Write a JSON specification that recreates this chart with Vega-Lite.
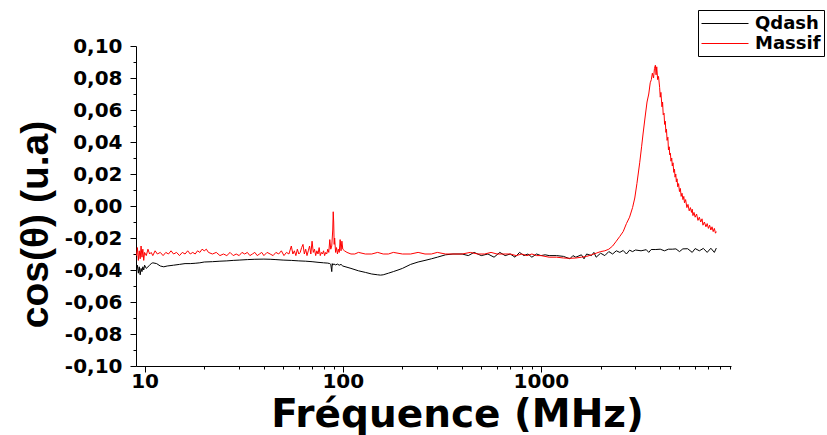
{
  "$schema": "https://vega.github.io/schema/vega-lite/v6.json",
  "autosize": {"type": "none"},
  "padding": {"left": 136, "top": 46, "right": 100, "bottom": 70},
  "width": 595,
  "height": 320,
  "background": "white",
  "config": {"view": {"stroke": null}},
  "datasets": {
    "qdash": [
      {"f":9.1,"v":-0.040},{"f":9.2,"v":-0.037},{"f":9.3,"v":-0.042},{"f":9.4,"v":-0.038},{"f":9.5,"v":-0.043},{"f":9.6,"v":-0.039},{"f":9.7,"v":-0.041},{"f":9.8,"v":-0.038},{"f":9.9,"v":-0.040},{"f":10,"v":-0.037},
      {"f":10.2,"v":-0.039},{"f":10.4,"v":-0.038},{"f":10.6,"v":-0.037},{"f":10.8,"v":-0.036},{"f":11,"v":-0.0355},{"f":11.5,"v":-0.036},{"f":12,"v":-0.0375},{"f":12.5,"v":-0.038},{"f":13,"v":-0.0375},{"f":14,"v":-0.037},
      {"f":15,"v":-0.0365},{"f":16,"v":-0.036},{"f":17,"v":-0.036},{"f":18,"v":-0.0358},{"f":19,"v":-0.0355},{"f":20,"v":-0.035},{"f":22,"v":-0.0348},{"f":24,"v":-0.0345},{"f":26,"v":-0.0343},{"f":28,"v":-0.034},
      {"f":30,"v":-0.0338},{"f":33,"v":-0.0335},{"f":36,"v":-0.0333},{"f":40,"v":-0.0332},{"f":43,"v":-0.0333},{"f":46,"v":-0.0335},{"f":50,"v":-0.0338},{"f":55,"v":-0.034},{"f":60,"v":-0.0343},{"f":65,"v":-0.0345},
      {"f":70,"v":-0.0348},{"f":75,"v":-0.0352},{"f":80,"v":-0.0355},{"f":84,"v":-0.0357},{"f":86,"v":-0.036},{"f":87,"v":-0.0365},{"f":88,"v":-0.041},{"f":88.5,"v":-0.036},{"f":89,"v":-0.037},{"f":90,"v":-0.0362},
      {"f":92,"v":-0.0368},{"f":94,"v":-0.0363},{"f":96,"v":-0.037},{"f":98,"v":-0.0365},{"f":100,"v":-0.0375},{"f":110,"v":-0.039},{"f":120,"v":-0.0405},{"f":130,"v":-0.0415},{"f":140,"v":-0.0425},{"f":150,"v":-0.043},
      {"f":155,"v":-0.0432},{"f":160,"v":-0.043},{"f":170,"v":-0.042},{"f":180,"v":-0.041},{"f":190,"v":-0.040},{"f":200,"v":-0.039},{"f":220,"v":-0.0365},{"f":240,"v":-0.035},{"f":260,"v":-0.034},{"f":280,"v":-0.033},
      {"f":300,"v":-0.032},{"f":330,"v":-0.0305},{"f":360,"v":-0.030},{"f":400,"v":-0.030},{"f":430,"v":-0.031},{"f":460,"v":-0.029},{"f":500,"v":-0.031},{"f":540,"v":-0.030},{"f":580,"v":-0.032},{"f":620,"v":-0.029},
      {"f":660,"v":-0.031},{"f":700,"v":-0.030},{"f":740,"v":-0.032},{"f":780,"v":-0.029},{"f":820,"v":-0.031},{"f":860,"v":-0.030},{"f":900,"v":-0.032},{"f":950,"v":-0.030},{"f":1000,"v":-0.031},{"f":1050,"v":-0.0305},
      {"f":1100,"v":-0.031},{"f":1200,"v":-0.031},{"f":1300,"v":-0.0315},{"f":1400,"v":-0.033},{"f":1450,"v":-0.031},{"f":1500,"v":-0.032},{"f":1600,"v":-0.0305},{"f":1650,"v":-0.033},{"f":1700,"v":-0.030},{"f":1800,"v":-0.031},
      {"f":1850,"v":-0.029},{"f":1900,"v":-0.032},{"f":2000,"v":-0.0295},{"f":2100,"v":-0.031},{"f":2200,"v":-0.0285},{"f":2300,"v":-0.030},{"f":2400,"v":-0.028},{"f":2500,"v":-0.029},{"f":2600,"v":-0.0278},{"f":2700,"v":-0.030},
      {"f":2800,"v":-0.0276},{"f":2900,"v":-0.0285},{"f":3000,"v":-0.0275},{"f":3200,"v":-0.028},{"f":3400,"v":-0.0273},{"f":3500,"v":-0.029},{"f":3600,"v":-0.0272},{"f":3800,"v":-0.0272},{"f":4000,"v":-0.027},{"f":4200,"v":-0.028},
      {"f":4400,"v":-0.027},{"f":4600,"v":-0.027},{"f":4800,"v":-0.0268},{"f":5000,"v":-0.0285},{"f":5200,"v":-0.0268},{"f":5500,"v":-0.0267},{"f":5800,"v":-0.029},{"f":6000,"v":-0.0266},{"f":6300,"v":-0.028},{"f":6600,"v":-0.0265},
      {"f":6900,"v":-0.029},{"f":7200,"v":-0.0264},{"f":7500,"v":-0.029},{"f":7674,"v":-0.0263}
    ],
    "massif": [
      {"f":9.1,"v":-0.031},{"f":9.2,"v":-0.026},{"f":9.3,"v":-0.034},{"f":9.4,"v":-0.028},{"f":9.5,"v":-0.033},{"f":9.6,"v":-0.025},{"f":9.7,"v":-0.032},{"f":9.8,"v":-0.027},{"f":9.9,"v":-0.034},{"f":10,"v":-0.029},
      {"f":10.2,"v":-0.031},{"f":10.4,"v":-0.027},{"f":10.6,"v":-0.030},{"f":10.8,"v":-0.029},{"f":11,"v":-0.031},{"f":11.3,"v":-0.028},{"f":11.6,"v":-0.030},{"f":12,"v":-0.029},{"f":12.4,"v":-0.031},{"f":12.8,"v":-0.029},
      {"f":13.2,"v":-0.030},{"f":13.6,"v":-0.028},{"f":14,"v":-0.030},{"f":14.5,"v":-0.029},{"f":15,"v":-0.031},{"f":15.5,"v":-0.029},{"f":16,"v":-0.030},{"f":16.5,"v":-0.028},{"f":17,"v":-0.030},{"f":17.5,"v":-0.029},
      {"f":18,"v":-0.030},{"f":18.5,"v":-0.028},{"f":19,"v":-0.029},{"f":19.5,"v":-0.027},{"f":20,"v":-0.028},{"f":20.5,"v":-0.027},{"f":21,"v":-0.029},{"f":22,"v":-0.030},{"f":23,"v":-0.029},{"f":24,"v":-0.031},
      {"f":25,"v":-0.030},{"f":26,"v":-0.031},{"f":27,"v":-0.029},{"f":28,"v":-0.031},{"f":29,"v":-0.030},{"f":30,"v":-0.031},{"f":31,"v":-0.029},{"f":32,"v":-0.030},{"f":33,"v":-0.029},{"f":34,"v":-0.031},
      {"f":35,"v":-0.030},{"f":36,"v":-0.029},{"f":37,"v":-0.031},{"f":38,"v":-0.030},{"f":39,"v":-0.029},{"f":40,"v":-0.031},{"f":41.5,"v":-0.029},{"f":43,"v":-0.030},{"f":44.5,"v":-0.031},{"f":46,"v":-0.029},
      {"f":47.5,"v":-0.030},{"f":49,"v":-0.028},{"f":50.5,"v":-0.031},{"f":52,"v":-0.029},{"f":53.5,"v":-0.030},{"f":55,"v":-0.025},{"f":56,"v":-0.030},{"f":57,"v":-0.028},{"f":58,"v":-0.031},{"f":59,"v":-0.027},
      {"f":60,"v":-0.030},{"f":61,"v":-0.029},{"f":62,"v":-0.026},{"f":63,"v":-0.024},{"f":64,"v":-0.030},{"f":65,"v":-0.027},{"f":66,"v":-0.031},{"f":67,"v":-0.028},{"f":68,"v":-0.025},{"f":69,"v":-0.030},
      {"f":70,"v":-0.022},{"f":71,"v":-0.029},{"f":72,"v":-0.027},{"f":73,"v":-0.031},{"f":74,"v":-0.028},{"f":75,"v":-0.030},{"f":76,"v":-0.026},{"f":77,"v":-0.031},{"f":78,"v":-0.029},{"f":79,"v":-0.030},
      {"f":80,"v":-0.028},{"f":81,"v":-0.031},{"f":82,"v":-0.029},{"f":83,"v":-0.030},{"f":84,"v":-0.027},{"f":85,"v":-0.029},{"f":86,"v":-0.021},{"f":87,"v":-0.027},{"f":88,"v":-0.025},{"f":89,"v":-0.015},
      {"f":89.5,"v":-0.0036},{"f":90,"v":-0.010},{"f":90.5,"v":-0.024},{"f":91,"v":-0.020},{"f":92,"v":-0.029},{"f":93,"v":-0.026},{"f":94,"v":-0.030},{"f":95,"v":-0.027},{"f":96,"v":-0.029},{"f":97,"v":-0.021},
      {"f":98,"v":-0.028},{"f":99,"v":-0.022},{"f":100,"v":-0.027},{"f":102,"v":-0.028},{"f":105,"v":-0.029},{"f":110,"v":-0.030},{"f":115,"v":-0.030},{"f":120,"v":-0.029},{"f":130,"v":-0.030},{"f":140,"v":-0.030},
      {"f":150,"v":-0.029},{"f":160,"v":-0.030},{"f":170,"v":-0.030},{"f":180,"v":-0.029},{"f":200,"v":-0.030},{"f":220,"v":-0.030},{"f":240,"v":-0.029},{"f":260,"v":-0.030},{"f":280,"v":-0.030},{"f":300,"v":-0.029},
      {"f":330,"v":-0.030},{"f":360,"v":-0.030},{"f":400,"v":-0.030},{"f":440,"v":-0.029},{"f":480,"v":-0.030},{"f":520,"v":-0.030},{"f":560,"v":-0.029},{"f":600,"v":-0.030},{"f":650,"v":-0.030},{"f":700,"v":-0.030},
      {"f":750,"v":-0.031},{"f":800,"v":-0.030},{"f":850,"v":-0.031},{"f":900,"v":-0.030},{"f":950,"v":-0.031},{"f":1000,"v":-0.031},{"f":1100,"v":-0.032},{"f":1200,"v":-0.032},{"f":1300,"v":-0.0325},{"f":1400,"v":-0.0327},
      {"f":1500,"v":-0.0325},{"f":1600,"v":-0.032},{"f":1700,"v":-0.0315},{"f":1800,"v":-0.0305},{"f":1900,"v":-0.0295},{"f":2000,"v":-0.0285},{"f":2100,"v":-0.028},{"f":2200,"v":-0.027},{"f":2300,"v":-0.025},{"f":2400,"v":-0.022},
      {"f":2500,"v":-0.019},{"f":2600,"v":-0.016},{"f":2700,"v":-0.011},{"f":2800,"v":-0.007},{"f":2900,"v":-0.001},{"f":2975,"v":0.005},{"f":3050,"v":0.014},{"f":3150,"v":0.027},{"f":3220,"v":0.037},{"f":3275,"v":0.045},
      {"f":3350,"v":0.055},{"f":3430,"v":0.065},{"f":3500,"v":0.070},{"f":3560,"v":0.077},{"f":3607,"v":0.079},{"f":3650,"v":0.083},{"f":3700,"v":0.080},{"f":3740,"v":0.086},{"f":3780,"v":0.088},{"f":3810,"v":0.082},
      {"f":3840,"v":0.087},{"f":3880,"v":0.079},{"f":3920,"v":0.081},{"f":3972,"v":0.074},{"f":4000,"v":0.068},{"f":4030,"v":0.071},{"f":4080,"v":0.062},{"f":4110,"v":0.065},{"f":4140,"v":0.057},{"f":4180,"v":0.058},
      {"f":4207,"v":0.051},{"f":4240,"v":0.053},{"f":4270,"v":0.046},{"f":4300,"v":0.048},{"f":4330,"v":0.041},{"f":4370,"v":0.043},{"f":4400,"v":0.035},{"f":4440,"v":0.037},{"f":4464,"v":0.032},{"f":4500,"v":0.033},
      {"f":4530,"v":0.028},{"f":4570,"v":0.030},{"f":4600,"v":0.025},{"f":4640,"v":0.027},{"f":4680,"v":0.021},{"f":4720,"v":0.023},{"f":4750,"v":0.018},{"f":4790,"v":0.020},{"f":4823,"v":0.015},{"f":4860,"v":0.017},
      {"f":4900,"v":0.012},{"f":4950,"v":0.014},{"f":5000,"v":0.009},{"f":5050,"v":0.011},{"f":5100,"v":0.006},{"f":5150,"v":0.008},{"f":5207,"v":0.004},{"f":5260,"v":0.006},{"f":5300,"v":0.002},{"f":5370,"v":0.004},
      {"f":5450,"v":-0.001},{"f":5520,"v":0.001},{"f":5600,"v":-0.003},{"f":5680,"v":-0.001},{"f":5750,"v":-0.004},{"f":5800,"v":-0.002},{"f":5848,"v":-0.006},{"f":5920,"v":-0.004},{"f":6000,"v":-0.007},{"f":6100,"v":-0.005},
      {"f":6200,"v":-0.009},{"f":6300,"v":-0.007},{"f":6400,"v":-0.010},{"f":6500,"v":-0.008},{"f":6570,"v":-0.012},{"f":6680,"v":-0.010},{"f":6800,"v":-0.013},{"f":6900,"v":-0.011},{"f":7000,"v":-0.014},{"f":7100,"v":-0.012},
      {"f":7200,"v":-0.015},{"f":7300,"v":-0.013},{"f":7400,"v":-0.016},{"f":7500,"v":-0.014},{"f":7600,"v":-0.017},{"f":7674,"v":-0.016}
    ]
  },
  "encoding": {
    "x": {
      "field": "f", "type": "quantitative",
      "scale": {"type": "log", "domain": [9.05, 9100], "nice": false},
      "axis": {
        "title": "Fréquence (MHz)",
        "values": [10,20,30,40,50,60,70,80,90,100,200,300,400,500,600,700,800,900,1000,2000,3000,4000,5000,6000,7000,8000,9000],
        "labelExpr": "(datum.value == 10 || datum.value == 100 || datum.value == 1000) ? ('' + datum.value) : ''",
        "tickSize": {"condition": {"test": "datum.value == 10 || datum.value == 100 || datum.value == 1000", "value": 6}, "value": 3},
        "labelOverlap": false, "labelFlush": false, "grid": false,
        "labelPadding": -1,
        "labelFont": "DejaVu Sans", "labelFontWeight": "bold", "labelFontSize": 20, "labelColor": "black",
        "titleFont": "DejaVu Sans", "titleFontWeight": "bold", "titleFontSize": 39, "titleColor": "black",
        "titleX": 321, "titleY": 60, "titleBaseline": "alphabetic", "titleAlign": "center",
        "domainColor": "black", "tickColor": "black", "domainWidth": 1, "tickWidth": 1
      }
    },
    "y": {
      "field": "v", "type": "quantitative",
      "scale": {"domain": [-0.1, 0.1], "nice": false},
      "axis": {
        "title": "cos(θ) (u.a)",
        "values": [-0.1,-0.09,-0.08,-0.07,-0.06,-0.05,-0.04,-0.03,-0.02,-0.01,0,0.01,0.02,0.03,0.04,0.05,0.06,0.07,0.08,0.09,0.1],
        "labelExpr": "abs(round(datum.value*100)) % 2 == 0 ? ((datum.value < -0.001 ? '-' : '') + replace(format(abs(datum.value), '.2f'), '.', ',')) : ''",
        "tickSize": {"condition": {"test": "abs(round(datum.value*100)) % 2 == 0", "value": 6}, "value": 3},
        "labelOverlap": false, "labelFlush": false, "grid": false,
        "labelPadding": 8,
        "labelFont": "DejaVu Sans", "labelFontWeight": "bold", "labelFontSize": 20, "labelColor": "black",
        "titleFont": "Liberation Sans", "titleFontWeight": "bold", "titleFontSize": 39, "titleColor": "black",
        "titleX": -89, "titleY": 178, "titleAngle": -90, "titleBaseline": "alphabetic", "titleAlign": "center",
        "domainColor": "black", "tickColor": "black", "domainWidth": 1, "tickWidth": 1
      }
    }
  },
  "layer": [
    {
      "data": {"name": "qdash"},
      "mark": {"type": "line", "strokeWidth": 1, "clip": true},
      "encoding": {"color": {"datum": "Qdash", "type": "nominal"}}
    },
    {
      "data": {"name": "massif"},
      "mark": {"type": "line", "strokeWidth": 1, "clip": true},
      "encoding": {"color": {"datum": "Massif", "type": "nominal",
        "scale": {"domain": ["Qdash", "Massif"], "range": ["#000000", "#ff0000"]},
        "legend": {
          "title": null, "orient": "none", "legendX": 562, "legendY": -36,
          "symbolType": "M-1,0H3.7", "symbolSize": 400, "symbolStrokeWidth": 1,
          "strokeColor": "black", "padding": 3, "rowPadding": 0,
          "labelFont": "DejaVu Sans", "labelFontWeight": "bold", "labelFontSize": 18, "labelColor": "black",
          "labelOffset": 33
        }
      }}
    }
  ]
}
